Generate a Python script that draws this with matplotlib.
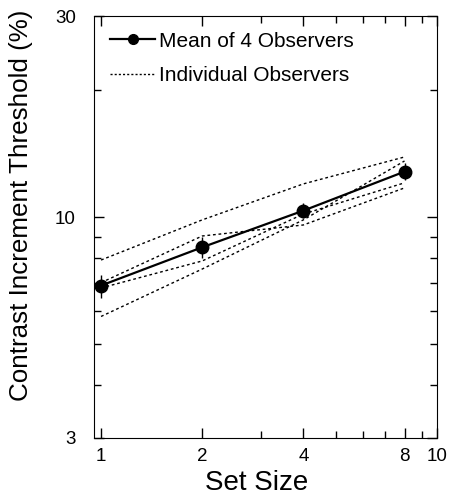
import numpy as np
import matplotlib.pyplot as plt
from matplotlib.lines import Line2D
from matplotlib.ticker import FixedLocator, NullFormatter, FixedFormatter

plt.rcParams['font.family'] = ['Liberation Sans', 'DejaVu Sans']

set_size = [1, 2, 4, 8]
mean_thr = [6.89, 8.49, 10.37, 12.83]
err_hi = [7.30, 8.98, 10.82, 13.46]
err_lo = [6.44, 8.01, 9.96, 12.26]
observers = [
    [7.92, 9.86, 12.0, 13.9],
    [5.82, 7.54, 9.86, 13.6],
    [7.0, 9.03, 9.59, 11.74],
    [6.8, 7.88, 10.18, 12.07],
]
x_ticks = [1, 2, 4, 8, 10]
y_ticks = [3, 10, 30]

fig = plt.figure(figsize=(4.52, 5.01), dpi=100)
ax = fig.add_axes([0.208, 0.126, 0.759, 0.842])

dots = (0, (2, 2))
for obs in observers:
    ax.plot(set_size, obs, color='black', lw=1, linestyle=dots)

yerr = [np.array(mean_thr) - np.array(err_lo), np.array(err_hi) - np.array(mean_thr)]
ax.errorbar(set_size, mean_thr, yerr=yerr, color='black', lw=1.6, marker='o',
            markersize=9, elinewidth=1, capsize=0)

ax.set_xscale('log')
ax.set_yscale('log')
ax.set_xlim(0.953, 10)
ax.set_ylim(3, 30)

ax.xaxis.set_major_locator(FixedLocator(x_ticks))
ax.xaxis.set_major_formatter(FixedFormatter([str(t) for t in x_ticks]))
ax.xaxis.set_minor_locator(FixedLocator([3, 5, 6, 7, 9]))
ax.xaxis.set_minor_formatter(NullFormatter())
ax.yaxis.set_major_locator(FixedLocator(y_ticks))
ax.yaxis.set_major_formatter(FixedFormatter([str(t) for t in y_ticks]))
ax.yaxis.set_minor_locator(FixedLocator([4, 5, 6, 7, 8, 9, 20]))
ax.yaxis.set_minor_formatter(NullFormatter())

ax.tick_params(which='both', direction='in', top=True, right=True, labelsize=13.5)
ax.tick_params(which='major', length=7, width=1)
ax.tick_params(which='minor', length=5, width=1)
ax.tick_params(axis='x', pad=7)
ax.tick_params(axis='y', pad=13)

ax.set_xlabel('Set Size', fontsize=20)
ax.set_ylabel('Contrast Increment Threshold (%)', fontsize=18.7)
ax.xaxis.set_label_coords(0.475, -0.076)
ax.yaxis.set_label_coords(-0.178, 0.552)

handles = [
    Line2D([], [], color='black', lw=1.6, marker='o', markersize=7),
    Line2D([], [], color='black', lw=1, linestyle=(0, (1.5, 1.5))),
]
ax.legend(handles, ['Mean of 4 Observers', 'Individual Observers'],
          loc='upper left', frameon=False, fontsize=15, handlelength=2.2,
          handletextpad=0.15, labelspacing=0.75, borderaxespad=0.35)

fig.savefig('out.png', dpi=100)
